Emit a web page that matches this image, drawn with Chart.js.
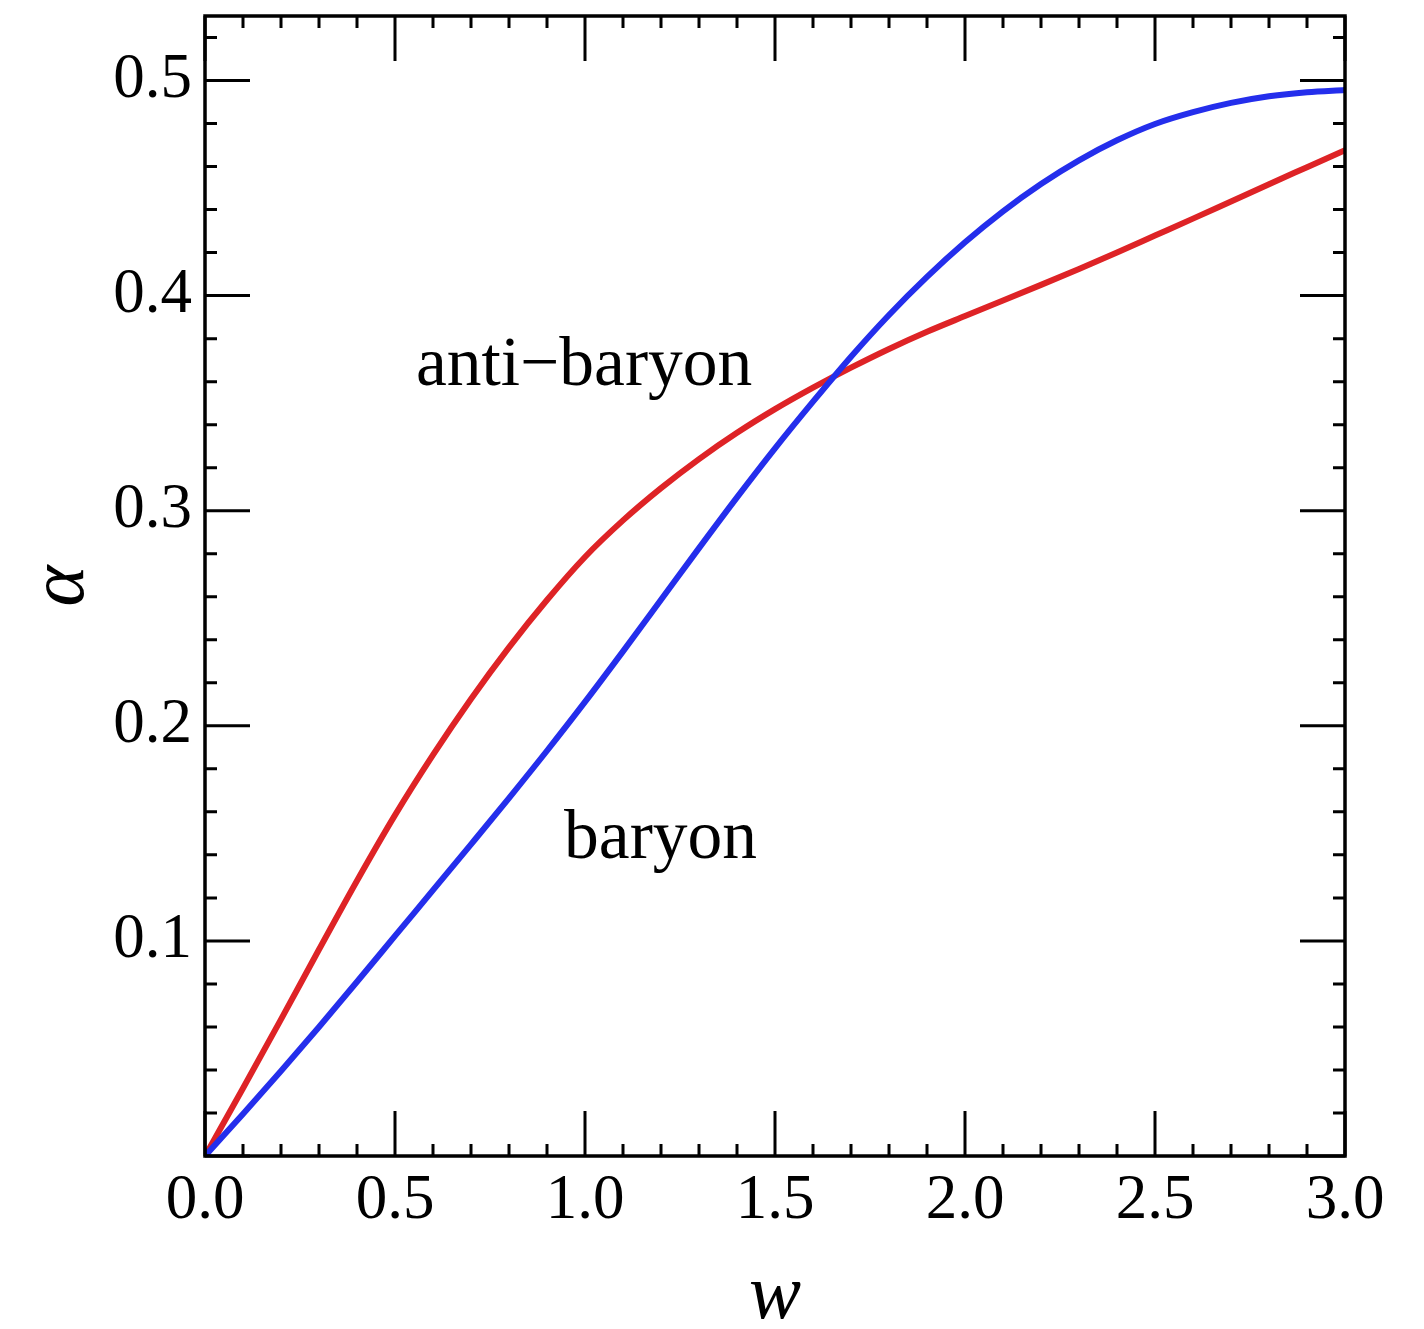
<!DOCTYPE html>
<html>
<head>
<meta charset="utf-8">
<script src="https://cdn.jsdelivr.net/npm/chart.js@4.4.1/dist/chart.umd.min.js"></script>
<style>
  html, body { margin: 0; padding: 0; background: #fff; }
  #wrap { width: 1424px; height: 1329px; }
</style>
</head>
<body>
<div id="wrap"><canvas id="alpha"></canvas></div>
<script>
// w grid and the two alpha(w) curves
const wValues = [0.0, 0.1, 0.2, 0.3, 0.4, 0.5, 0.6, 0.7, 0.8, 0.9, 1.0,
                 1.1, 1.2, 1.3, 1.4, 1.5, 1.6, 1.7, 1.8, 1.9, 2.0,
                 2.1, 2.2, 2.3, 2.4, 2.5, 2.6, 2.7, 2.8, 2.9, 3.0];

const baryon = [0.0, 0.0195, 0.0395, 0.0600, 0.0810, 0.1023, 0.1236, 0.1449, 0.1664, 0.1884, 0.2111,
                0.2346, 0.2586, 0.2826, 0.3062, 0.3290, 0.3507, 0.3716, 0.3910, 0.4087, 0.4248,
                0.4392, 0.4519, 0.4629, 0.4722, 0.4798, 0.4853, 0.4896, 0.4927, 0.4946, 0.4956];

const antiBaryon = [0.0, 0.0315, 0.0635, 0.0960, 0.1280, 0.1585, 0.1865, 0.2125, 0.2365, 0.2585, 0.2785,
                    0.2955, 0.3105, 0.3240, 0.3362, 0.3472, 0.3572, 0.3665, 0.3752, 0.3832, 0.3905,
                    0.3977, 0.4050, 0.4124, 0.4200, 0.4279, 0.4358, 0.4438, 0.4518, 0.4597, 0.4676];

const xTickLabels = ['0.0', '0.5', '1.0', '1.5', '2.0', '2.5', '3.0'];
const yTickLabels = ['0.1', '0.2', '0.3', '0.4', '0.5'];

const curveNames = ['anti\u2212baryon', 'baryon'];
const curveNameAt = [[0.555, 0.3584], [0.945, 0.1385]];

const SERIF = '"Liberation Serif", "Times New Roman", serif';

const onStep = (v, step) => Math.abs(v / step - Math.round(v / step)) < 1e-6;
const pickLabel = (list, v) => list.find(l => Math.abs(parseFloat(l) - v) < 1e-6) ?? null;

// values where a tick mark goes: every minor step inside the axis range
function tickValues(scale, step) {
    const out = [];
    const n = Math.floor((scale.max - scale.min) / step + 1e-6);
    for (let i = 0; i <= n; i++) out.push(scale.min + i * step);
    return out;
}

// inward ticks on all four sides, the box, and the in-plot curve names
const frameTicks = {
    id: 'frameTicks',
    afterDraw(chart) {
        const { ctx, chartArea: a, scales: { x, y } } = chart;
        ctx.save();
        ctx.strokeStyle = '#000';
        ctx.lineWidth = 3;
        ctx.beginPath();
        tickValues(x, 0.1).forEach(v => {
            const px = x.getPixelForValue(v);
            const len = onStep(v, 0.5) ? 45 : 12;
            ctx.moveTo(px, a.bottom); ctx.lineTo(px, a.bottom - len);
            ctx.moveTo(px, a.top); ctx.lineTo(px, a.top + len);
        });
        tickValues(y, 0.02).forEach(v => {
            const py = y.getPixelForValue(v);
            const len = onStep(v, 0.1) ? 45 : 12;
            ctx.moveTo(a.left, py); ctx.lineTo(a.left + len, py);
            ctx.moveTo(a.right, py); ctx.lineTo(a.right - len, py);
        });
        ctx.stroke();
        ctx.lineWidth = 3.5;
        ctx.strokeRect(a.left, a.top, a.right - a.left, a.bottom - a.top);

        ctx.fillStyle = '#000';
        ctx.font = '69.5px ' + SERIF;
        ctx.textAlign = 'left';
        ctx.textBaseline = 'alphabetic';
        curveNames.forEach((name, i) => {
            ctx.fillText(name, x.getPixelForValue(curveNameAt[i][0]), y.getPixelForValue(curveNameAt[i][1]));
        });
        ctx.restore();
    }
};

const toPoints = ys => wValues.map((w, i) => ({ x: w, y: ys[i] }));

new Chart(document.getElementById('alpha'), {
    type: 'line',
    data: {
        datasets: [
            { label: 'baryon', data: toPoints(baryon), borderColor: 'rgb(36,46,236)', borderWidth: 6 },
            { label: 'anti-baryon', data: toPoints(antiBaryon), borderColor: 'rgb(222,35,38)', borderWidth: 6 },
        ],
    },
    options: {
        responsive: true,
        maintainAspectRatio: false,
        animation: false,
        layout: { padding: { top: 16, right: 79, left: 0, bottom: 0 } },
        elements: {
            point: { radius: 0 },
            line: { cubicInterpolationMode: 'monotone', fill: false },
        },
        plugins: { legend: { display: false }, tooltip: { enabled: false } },
        scales: {
            x: {
                type: 'linear',
                min: 0, max: 3,
                grid: { display: false, drawTicks: false },
                border: { display: false },
                ticks: {
                    stepSize: 0.5,
                    includeBounds: false,
                    autoSkip: false,
                    maxRotation: 0,
                    padding: 8,
                    color: '#000',
                    font: { family: SERIF, size: 63 },
                    callback: v => pickLabel(xTickLabels, v),
                },
                title: {
                    display: true,
                    text: 'w',
                    color: '#000',
                    padding: 0,
                    font: { family: SERIF, size: 78, style: 'italic', lineHeight: 0.82 },
                },
                afterFit: s => { s.height = 173; s.paddingLeft = 0; s.paddingRight = 0; },
            },
            y: {
                type: 'linear',
                min: 0, max: 0.53,
                grid: { display: false, drawTicks: false },
                border: { display: false },
                ticks: {
                    stepSize: 0.1,
                    includeBounds: false,
                    autoSkip: false,
                    padding: 13,
                    color: '#000',
                    font: { family: SERIF, size: 63 },
                    callback: v => pickLabel(yTickLabels, v),
                },
                title: {
                    display: true,
                    text: '\u03B1',
                    color: '#000',
                    padding: { top: 31, bottom: 0 },
                    font: { family: SERIF, size: 78, style: 'italic', lineHeight: 0.82 },
                },
                afterFit: s => { s.width = 205; s.paddingTop = 0; s.paddingBottom = 0; },
            },
        },
    },
    plugins: [frameTicks],
});
</script>
</body>
</html>
